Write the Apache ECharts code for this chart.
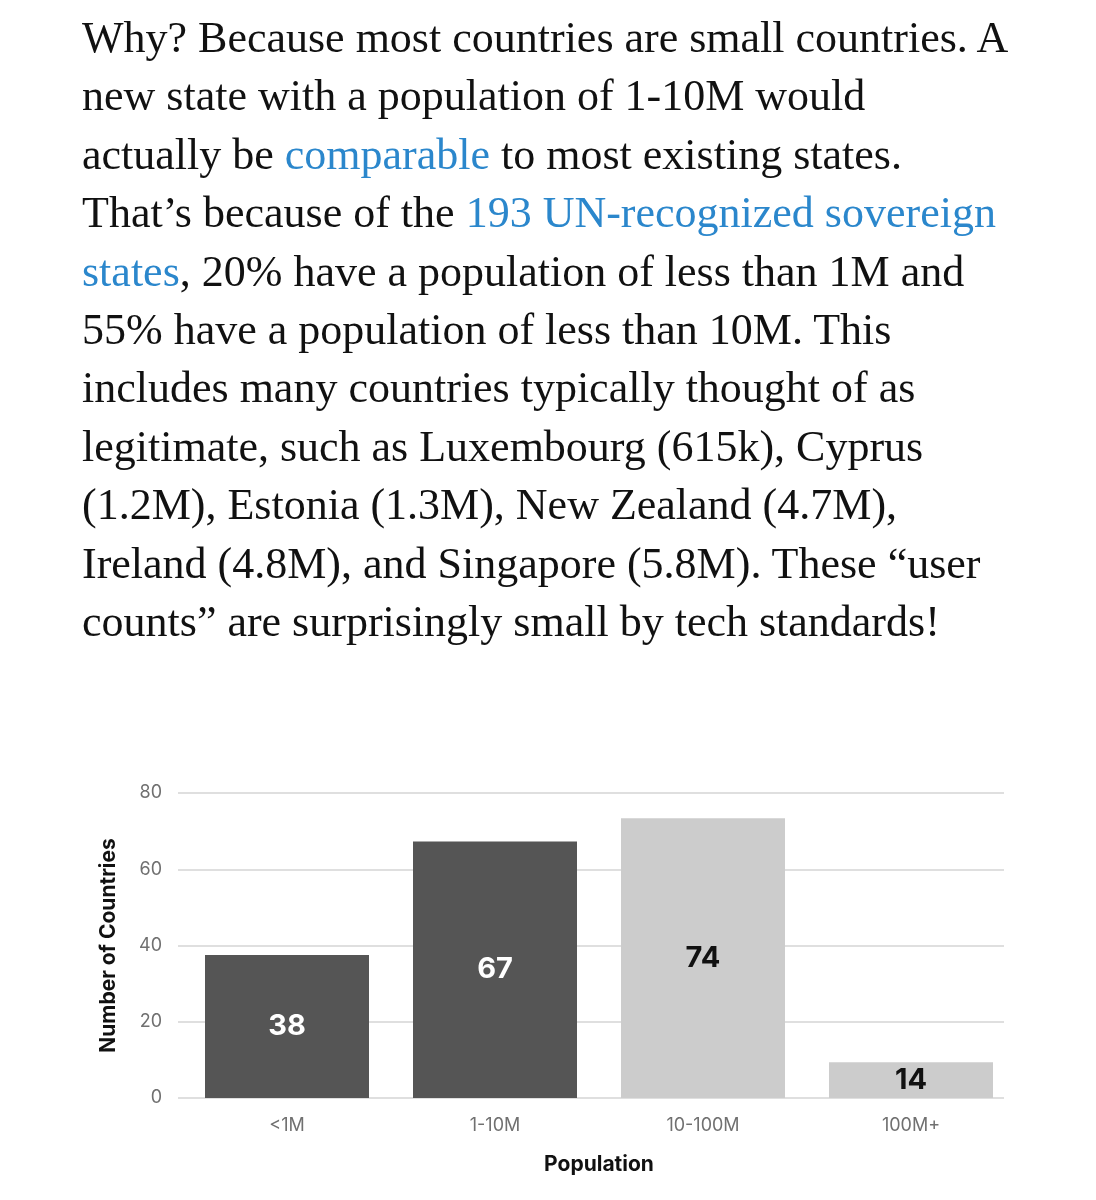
<!DOCTYPE html>
<html>
<head>
<meta charset="utf-8">
<script src="https://cdn.jsdelivr.net/npm/echarts@6/dist/echarts.min.js"></script>
<style>
  html, body { margin: 0; padding: 0; background: #fff; }
  #chart { position: absolute; left: 0; top: 0; width: 1096px; height: 1200px; }
  #text {
    position: absolute; left: 82px; top: 9px; z-index: 2;
    font-family: "Liberation Serif", serif; font-size: 44px; line-height: 58.4px;
    color: #111;
  }
  #text div { white-space: nowrap; }
  #text a { color: #2b87cc; text-decoration: none; }
</style>
</head>
<body>
<div id="chart"></div>
<div id="text">
  <div>Why? Because most countries are small countries. A</div>
  <div>new state with a population of 1-10M would</div>
  <div>actually be <a>comparable</a> to most existing states.</div>
  <div>That’s because of the <a>193 UN-recognized sovereign</a></div>
  <div><a>states</a>, 20% have a population of less than 1M and</div>
  <div>55% have a population of less than 10M. This</div>
  <div>includes many countries typically thought of as</div>
  <div>legitimate, such as Luxembourg (615k), Cyprus</div>
  <div>(1.2M), Estonia (1.3M), New Zealand (4.7M),</div>
  <div>Ireland (4.8M), and Singapore (5.8M). These “user</div>
  <div>counts” are surprisingly small by tech standards!</div>
</div>
<script>
// ---- data ----
const categories = ['<1M', '1-10M', '10-100M', '100M+'];
const barHeights = [37.5, 67.3, 73.4, 9.4];      // bar heights as drawn in the picture
const countLabels = ['38', '67', '74', '14'];    // numbers printed on the bars
const yTicks = [0, 20, 40, 60, 80];
const xAxisTitle = 'Population';
const yAxisTitle = 'Number of Countries';

// ---- styles ----
const darkBar = '#555555', lightBar = '#cccccc';
const barColors = [darkBar, darkBar, lightBar, lightBar];
const labelColors = ['#ffffff', '#ffffff', '#111111', '#111111'];
const sans = 'Inter, "Liberation Sans", Arial, sans-serif';

const chart = echarts.init(document.getElementById('chart'), null, { renderer: 'canvas' });
chart.setOption({
  backgroundColor: '#ffffff',
  animation: false,
  grid: [
    { left: 183, right: 81, top: 793, bottom: 102 },
    { left: 178, right: 92, top: 793, bottom: 102 }
  ],
  xAxis: [
    {
      gridIndex: 0, type: 'category', data: categories,
      name: xAxisTitle, nameLocation: 'middle', nameGap: 56,
      nameTextStyle: { fontFamily: sans, fontSize: 21, fontWeight: 'bold', color: '#111' },
      axisLine: { show: false }, axisTick: { show: false },
      axisLabel: { fontFamily: sans, fontSize: 18, color: '#707070', margin: 19 }
    },
    { gridIndex: 1, type: 'category', data: categories, show: false }
  ],
  yAxis: [
    {
      gridIndex: 0, type: 'value', min: 0, max: 80, interval: 20, show: false
    },
    {
      gridIndex: 1, type: 'value', min: yTicks[0], max: yTicks[yTicks.length - 1], interval: 20,
      name: yAxisTitle, nameLocation: 'middle', nameGap: 59,
      nameTextStyle: { fontFamily: sans, fontSize: 21, fontWeight: 'bold', color: '#111' },
      axisLine: { show: false }, axisTick: { show: false },
      axisLabel: { fontFamily: sans, fontSize: 18, color: '#707070', margin: 16, padding: [5, 0, 0, 0] },
      splitLine: { lineStyle: { color: '#d4d4d4', width: 1.5 } }
    }
  ],
  series: [{
    type: 'bar', xAxisIndex: 0, yAxisIndex: 0,
    barWidth: 164,
    data: barHeights.map((v, i) => ({
      value: v,
      itemStyle: { color: barColors[i] },
      label: { color: labelColors[i] }
    })),
    label: {
      show: true, position: 'inside',
      fontFamily: sans, fontSize: 29, fontWeight: 'bold',
      formatter: p => countLabels[p.dataIndex]
    }
  }]
});
</script>
</body>
</html>
